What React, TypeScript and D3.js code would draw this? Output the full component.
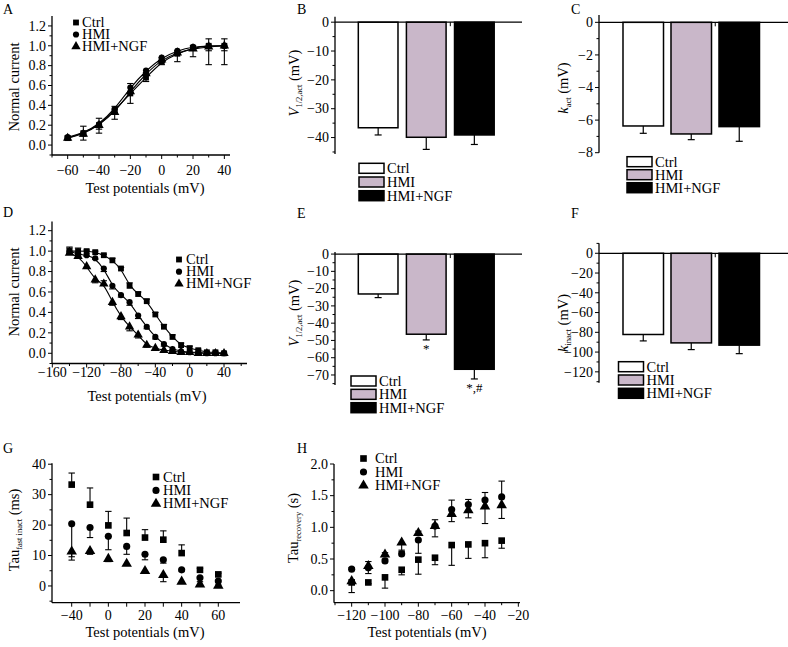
import React from 'react';
import * as d3 from 'd3';

const FONT = '"Liberation Serif", "Times New Roman", serif';
const HMI_FILL = '#c9b7c9';

const groupNames = ['Ctrl', 'HMI', 'HMI+NGF'];
const groupFills = ['#ffffff', HMI_FILL, '#000000'];

// A - activation curves
const actPotentials = [-60, -50, -40, -30, -20, -10, 0, 10, 20, 30, 40];
const actCtrl = [0.07, 0.12, 0.2, 0.35, 0.52, 0.68, 0.84, 0.92, 0.98, 1.0, 1.0];
const actCtrlErr = [0.02, 0.07, 0.07, 0.04, 0.1, 0.05, 0.04, 0.03, 0.02, 0.07, 0.07];
const actHmi = [0.08, 0.12, 0.21, 0.36, 0.58, 0.75, 0.88, 0.95, 0.99, 1.0, 1.0];
const actHmiErr = [-0.01, -0.03, -0.05, -0.03, -0.05, -0.05, -0.05, -0.03, -0.03, -0.05, -0.05];
const actNgf = [0.07, 0.11, 0.2, 0.33, 0.54, 0.72, 0.86, 0.93, 0.97, 0.99, 1.0];
const actNgfErr = [-0.02, -0.06, -0.08, -0.07, -0.12, -0.08, -0.05, -0.09, -0.08, -0.18, -0.19];

// B, C - activation parameters
const v12Act = [-36.6, -39.9, -39.1];
const v12ActErr = [2.5, 4.2, 3.3];
const kAct = [-6.36, -6.85, -6.4];
const kActErr = [0.45, 0.35, 0.9];

// D - inactivation curves
const inactPotentials = [-140, -130, -120, -110, -100, -90, -80, -70, -60, -50, -40, -30, -20, -10, 0, 10, 20, 30, 40];
const inactCtrl = [1.0, 1.0, 1.0, 0.99, 0.96, 0.91, 0.83, 0.66, 0.58, 0.51, 0.38, 0.26, 0.16, 0.08, 0.05, 0.03, 0.01, 0.01, 0.0];
const inactCtrlErr = [0.03, 0.03, 0.01, 0.01, 0.01, 0.02, 0.01, 0.03, 0.02, 0.02, 0.02, 0.02, 0.02, 0.02, 0.02, 0.01, 0.01, 0.01, 0.01];
const inactHmi = [1.0, 0.97, 0.96, 0.93, 0.83, 0.66, 0.57, 0.5, 0.37, 0.26, 0.16, 0.09, 0.04, 0.02, 0.01, 0.01, 0.0, 0.0, 0.0];
const inactHmiErr = [-0.02, -0.02, -0.01, -0.01, -0.03, -0.03, -0.02, -0.03, -0.03, -0.02, -0.02, -0.02, -0.01, -0.01, -0.01, -0.01, -0.01, -0.01, -0.01];
const inactNgf = [0.98, 0.95, 0.85, 0.72, 0.68, 0.5, 0.36, 0.26, 0.18, 0.08, 0.05, 0.03, 0.02, 0.01, 0.01, 0.0, 0.0, 0.0, 0.0];
const inactNgfErr = [0.06, 0.03, -0.02, -0.03, 0.03, -0.03, -0.03, -0.04, -0.03, -0.02, -0.02, -0.02, -0.01, -0.01, -0.01, -0.01, -0.01, -0.01, -0.01];

// E, F - inactivation parameters
const v12Inact = [-23.1, -46.4, -66.7];
const v12InactErr = [2.1, 3.3, 5.6];
const v12InactSig = ['', '*', '*,#'];
const kInact = [-82.2, -90.7, -93.0];
const kInactErr = [6.5, 6.8, 8.6];

// G - fast inactivation tau
const tauPotentials = ['-40', '-20', '0', '10', '20', '30', '40', '50', '60'];
const tauTickLabels = ['-40', '0', '20', '40', '60'];
const tauCtrl = [33.3, 26.7, 19.9, 17.4, 15.9, 15.2, 10.8, 5.3, 3.8];
const tauCtrlErr = [3.8, 5.5, 4.6, 4.9, 2.6, 2.9, 2.7, 0.5, 0.4];
const tauHmi = [20.4, 19.2, 16.3, 13.0, 10.4, 8.6, 5.3, 2.7, 1.6];
const tauHmiErr = [-10.8, -3.3, -4.4, -2.6, -1.8, -1.1, -0.4, -1.3, -1.3];
const tauNgf = [11.3, 11.5, 8.9, 7.3, 4.9, 3.6, 1.4, 0.5, 0.1];
const tauNgfErr = [-2.8, -1.1, -0.9, -0.4, -0.3, -2.2, -0.3, -0.5, -0.3];

// H - recovery tau
const recPotentials = [-120, -110, -100, -90, -80, -70, -60, -50, -40, -30];
const recCtrl = [0.13, 0.13, 0.21, 0.33, 0.49, 0.52, 0.72, 0.73, 0.75, 0.79];
const recCtrlErr = [-0.16, -0.02, -0.17, -0.08, -0.23, -0.11, -0.32, -0.22, -0.23, -0.12];
const recHmi = [0.34, 0.36, 0.47, 0.58, 0.8, 1.02, 1.28, 1.36, 1.43, 1.48];
const recHmiErr = [0.02, -0.09, 0.03, 0.04, -0.21, 0.1, 0.15, 0.08, 0.12, 0.25];
const recNgf = [0.15, 0.39, 0.57, 0.76, 0.91, 1.02, 1.21, 1.27, 1.33, 1.35];
const recNgfErr = [-0.03, 0.07, 0.03, -0.12, 0.03, -0.17, -0.12, -0.12, -0.27, -0.21];

const symbols = [d3.symbolSquare, d3.symbolCircle, d3.symbolTriangle];
const minus = (s: string) => s.replace('-', '\u2212');

type Series = { values: number[]; errors: number[] };

function Title({ x, y, main, sub, tail, italic }: any) {
  return (
    <text transform={`translate(${x},${y}) rotate(-90)`} textAnchor="middle" fontSize={14.5}>
      <tspan fontStyle={italic ? 'italic' : 'normal'}>{main}</tspan>
      <tspan fontSize={8.5} dy={3}>{sub}</tspan>
      <tspan dy={-3}>{tail}</tspan>
    </text>
  );
}

function XYPanel(props: any) {
  const { letter, letterAt, x, xs, y, xEnd, xTicks, xMinor, xLabelDy, yMajor, yMinor, yFmt,
    series, fit, legend, markerSize, yTitle, xTitleAt } = props;
  const [yBottom, yTop] = y.range();
  const x0 = props.xStart;
  const line = d3.line<number>().x((_, i) => x(xs[i])).y(v => y(v)).curve(d3.curveBasis);
  return (
    <g>
      <text x={letterAt[0]} y={letterAt[1]} fontSize={14}>{letter}</text>
      {fit && series.map((s: Series, k: number) => (
        <path key={'f' + k} d={line(s.values) || ''} fill="none" stroke="#000" strokeWidth={1.1} />
      ))}
      <line x1={x0} x2={x0} y1={yTop} y2={yBottom} stroke="#000" strokeWidth={1.3} />
      <line x1={x0} x2={xEnd} y1={yBottom} y2={yBottom} stroke="#000" strokeWidth={1.3} />
      {yMajor.map((t: number) => (
        <g key={'ym' + t}>
          <line x1={x0 - 4} x2={x0} y1={y(t)} y2={y(t)} stroke="#000" strokeWidth={1} />
          <text x={x0 - 6} y={y(t)} dy="0.34em" textAnchor="end" fontSize={14}>{minus(yFmt(t))}</text>
        </g>
      ))}
      {yMinor.map((t: number) => (
        <line key={'yn' + t} x1={x0 - 2.5} x2={x0} y1={y(t)} y2={y(t)} stroke="#000" strokeWidth={1} />
      ))}
      {xTicks.map((t: any, i: number) => (
        <g key={'xm' + i}>
          <line x1={x(t.v)} x2={x(t.v)} y1={yBottom} y2={yBottom + 4} stroke="#000" strokeWidth={1} />
          <text x={x(t.v)} y={yBottom + xLabelDy} textAnchor="middle" fontSize={14}>{minus(t.label)}</text>
        </g>
      ))}
      {xMinor.map((t: any, i: number) => (
        <line key={'xn' + i} x1={x(t)} x2={x(t)} y1={yBottom} y2={yBottom + 2.5} stroke="#000" strokeWidth={1} />
      ))}
      {series.map((s: Series, k: number) => (
        <g key={'e' + k} stroke="#000" strokeWidth={1.1}>
          {s.values.map((v, i) => {
            const cx = x(xs[i]);
            const ye = y(v + s.errors[i]);
            return (
              <g key={i}>
                <line x1={cx} x2={cx} y1={y(v)} y2={ye} />
                <line x1={cx - 3.2} x2={cx + 3.2} y1={ye} y2={ye} />
              </g>
            );
          })}
        </g>
      ))}
      {series.map((s: Series, k: number) => (
        <g key={'m' + k}>
          {s.values.map((v, i) => (
            <path key={i} transform={`translate(${x(xs[i])},${y(v)})`}
              d={d3.symbol(symbols[k], markerSize[k])() || ''} fill="#000" />
          ))}
        </g>
      ))}
      {groupNames.map((g, k) => (
        <g key={'l' + k}>
          <path transform={`translate(${legend.x},${legend.y + k * legend.dy})`}
            d={d3.symbol(symbols[k], markerSize[k])() || ''} fill="#000" />
          <text x={legend.x + legend.gap} y={legend.y + k * legend.dy + 4.5} fontSize={14.5}>{g}</text>
        </g>
      ))}
      {yTitle}
      <text x={xTitleAt[0]} y={xTitleAt[1]} textAnchor="middle" fontSize={14.5}>Test potentials (mV)</text>
    </g>
  );
}

function BarPanel(props: any) {
  const { letter, letterAt, axisX, lineEnd, y, band, values, errors, major, minor, legend, title, sig } = props;
  const [yBottom, yTop] = y.range();
  const xb = d3.scaleBand<string>().domain(groupNames).range(band).paddingInner(props.pad).paddingOuter(0.1);
  const bw = xb.bandwidth();
  const y0 = y(0);
  const gapX = (xb('HMI') as number) + bw + (xb.step() - bw) / 2;
  return (
    <g>
      <text x={letterAt[0]} y={letterAt[1]} fontSize={14}>{letter}</text>
      {groupNames.map((g, i) => {
        const bx = xb(g) as number;
        const cx = bx + bw / 2;
        const ye = y(values[i] - errors[i]);
        return (
          <g key={g}>
            <line x1={cx} x2={cx} y1={y(values[i])} y2={ye} stroke="#000" strokeWidth={1.2} />
            <line x1={cx - 3.5} x2={cx + 3.5} y1={ye} y2={ye} stroke="#000" strokeWidth={1.2} />
            <rect x={bx} y={y0} width={bw} height={y(values[i]) - y0} fill={groupFills[i]} stroke="#000" strokeWidth={1.5} />
            {sig && sig[i] && (
              <text x={cx} y={ye + 13} textAnchor="middle" fontSize={13}>{sig[i]}</text>
            )}
          </g>
        );
      })}
      <line x1={axisX} x2={axisX} y1={yTop} y2={yBottom} stroke="#000" strokeWidth={1.3} />
      <line x1={axisX} x2={lineEnd} y1={y0} y2={y0} stroke="#000" strokeWidth={1.3} />
      <line x1={gapX} x2={gapX} y1={y0} y2={y0 + 4} stroke="#000" strokeWidth={1} />
      {major.map((t: number) => (
        <g key={'m' + t}>
          <line x1={axisX - 4} x2={axisX} y1={y(t)} y2={y(t)} stroke="#000" strokeWidth={1} />
          <text x={axisX - 6} y={y(t)} dy="0.34em" textAnchor="end" fontSize={14}>{minus(String(t))}</text>
        </g>
      ))}
      {minor.map((t: number) => (
        <line key={'n' + t} x1={axisX - 2.5} x2={axisX} y1={y(t)} y2={y(t)} stroke="#000" strokeWidth={1} />
      ))}
      {groupNames.map((g, i) => (
        <g key={'l' + g}>
          <rect x={legend.x} y={legend.y + i * legend.dy} width={25} height={10} fill={groupFills[i]} stroke="#000" strokeWidth={1.5} />
          <text x={legend.x + 28} y={legend.y + i * legend.dy + 10} fontSize={14.5}>{g}</text>
        </g>
      ))}
      {title}
    </g>
  );
}

export default function App() {
  const sizesSmall = [34, 30, 38];
  const sizesBig = [44, 40, 48];

  // A
  const xA = d3.scaleLinear().domain([-70, 43.6]).range([52, 230]);
  const yA = d3.scaleLinear().domain([-0.1, 1.3]).range([155, 16]);
  // D
  const xD = d3.scaleLinear().domain([-160, 67]).range([52.3, 247.2]);
  const yD = d3.scaleLinear().domain([-0.1, 1.29]).range([363.5, 221.5]);
  // G
  const xG = d3.scalePoint<string>().domain(tauPotentials).range([71.7, 218.3]);
  const yG = d3.scaleLinear().domain([-5.5, 40.3]).range([602.7, 463.3]);
  // H
  const xH = d3.scaleLinear().domain([-130.6, -19]).range([334, 520]);
  const yH = d3.scaleLinear().domain([-0.19, 2.0]).range([602.7, 464]);

  const yB = d3.scaleLinear().domain([-45.7, 1.9]).range([154, 16.7]);
  const yC = d3.scaleLinear().domain([-8, 0.45]).range([152.7, 15]);
  const yE = d3.scaleLinear().domain([-75.8, 1.2]).range([385, 252]);
  const yF = d3.scaleLinear().domain([-131, 10.1]).range([382.7, 243.3]);

  const f1 = d3.format('.1f');
  const fd = d3.format('d');

  return (
    <svg width={788} height={647} style={{ position: 'absolute', left: 0, top: 0, background: '#fff' }}
      fontFamily={FONT}>
      <XYPanel letter="A" letterAt={[3, 13.5]} x={xA} xs={actPotentials} y={yA} xStart={52} xEnd={230}
        xTicks={d3.range(-60, 41, 20).map(v => ({ v, label: fd(v) }))}
        xMinor={d3.range(-70, 44, 10).filter(v => v % 20 !== 0)} xLabelDy={20}
        yMajor={d3.range(0, 1.21, 0.2).map(v => +v.toFixed(1))}
        yMinor={[-0.1, 0.1, 0.3, 0.5, 0.7, 0.9, 1.1]} yFmt={f1}
        series={[{ values: actCtrl, errors: actCtrlErr }, { values: actHmi, errors: actHmiErr }, { values: actNgf, errors: actNgfErr }]}
        fit markerSize={sizesSmall} legend={{ x: 76, y: 22.5, dy: 12, gap: 6 }}
        yTitle={<Title x={19} y={87} main="Normal current" sub="" tail="" />}
        xTitleAt={[145, 193]} />

      <XYPanel letter="D" letterAt={[3, 217]} x={xD} xs={inactPotentials} y={yD} xStart={52} xEnd={247}
        xTicks={d3.range(-160, 41, 40).map(v => ({ v, label: fd(v) }))}
        xMinor={d3.range(-140, 61, 40)} xLabelDy={13.5}
        yMajor={d3.range(0, 1.21, 0.2).map(v => +v.toFixed(1))}
        yMinor={[-0.1, 0.1, 0.3, 0.5, 0.7, 0.9, 1.1]} yFmt={f1}
        series={[{ values: inactCtrl, errors: inactCtrlErr }, { values: inactHmi, errors: inactHmiErr }, { values: inactNgf, errors: inactNgfErr }]}
        fit markerSize={sizesSmall} legend={{ x: 179, y: 259.5, dy: 12.2, gap: 7 }}
        yTitle={<Title x={19} y={292} main="Normal current" sub="" tail="" />}
        xTitleAt={[147, 401]} />

      <XYPanel letter="G" letterAt={[3, 453]} x={xG} xs={tauPotentials} y={yG} xStart={52} xEnd={240}
        xTicks={tauPotentials.map(v => ({ v, label: tauTickLabels.includes(v) ? v : '' }))}
        xMinor={[]} xLabelDy={17.3}
        yMajor={d3.range(0, 41, 10)} yMinor={d3.range(-5, 40, 10)} yFmt={fd}
        series={[{ values: tauCtrl, errors: tauCtrlErr }, { values: tauHmi, errors: tauHmiErr }, { values: tauNgf, errors: tauNgfErr }]}
        markerSize={sizesBig} legend={{ x: 156, y: 477, dy: 13.4, gap: 7 }}
        yTitle={<Title x={18.5} y={530} main="Tau" sub="fast inact" tail=" (ms)" />}
        xTitleAt={[145, 637]} />

      <XYPanel letter="H" letterAt={[297, 453]} x={xH} xs={recPotentials} y={yH} xStart={334} xEnd={520}
        xTicks={d3.range(-120, -19, 20).map(v => ({ v, label: fd(v) }))}
        xMinor={d3.range(-130, -19, 20)} xLabelDy={17.3}
        yMajor={[0, 0.5, 1, 1.5, 2]} yMinor={[0.25, 0.75, 1.25, 1.75]} yFmt={f1}
        series={[{ values: recCtrl, errors: recCtrlErr }, { values: recHmi, errors: recHmiErr }, { values: recNgf, errors: recNgfErr }]}
        markerSize={sizesBig} legend={{ x: 363.5, y: 458.5, dy: 13.5, gap: 11.5 }}
        yTitle={<Title x={298} y={528} main="Tau" sub="recovery" tail=" (s)" />}
        xTitleAt={[427, 637]} />

      <BarPanel letter="B" letterAt={[297, 13.5]} axisX={335} lineEnd={522} y={yB} band={[353.5, 499]} pad={0.175}
        values={v12Act} errors={v12ActErr} major={d3.range(-40, 1, 10)} minor={d3.range(-45, 1, 10)}
        legend={{ x: 359, y: 163.3, dy: 13.7 }}
        title={<Title x={299} y={83} main="V" sub="1/2,act" tail=" (mV)" italic />} />

      <BarPanel letter="C" letterAt={[571, 13.5]} axisX={599} lineEnd={788} y={yC} band={[618.2, 764.3]} pad={0.156}
        values={kAct} errors={kActErr} major={d3.range(-8, 1, 2)} minor={d3.range(-7, 0, 2)}
        legend={{ x: 627, y: 156.7, dy: 13 }}
        title={<Title x={568} y={88} main="k" sub="act" tail=" (mV)" italic />} />

      <BarPanel letter="E" letterAt={[297, 218.3]} axisX={335} lineEnd={522} y={yE} band={[353.5, 499]} pad={0.175}
        values={v12Inact} errors={v12InactErr} sig={v12InactSig}
        major={d3.range(-70, 1, 10)} minor={d3.range(-75, 1, 10)}
        legend={{ x: 351, y: 376, dy: 13.35 }}
        title={<Title x={299} y={313} main="V" sub="1/2,act" tail=" (mV)" italic />} />

      <BarPanel letter="F" letterAt={[571, 218]} axisX={599} lineEnd={788} y={yF} band={[618.2, 764.3]} pad={0.156}
        values={kInact} errors={kInactErr} major={d3.range(-120, 1, 20)} minor={d3.range(-130, 11, 20)}
        legend={{ x: 618.5, y: 361.7, dy: 13.3 }}
        title={<Title x={568} y={323} main="k" sub="inact" tail=" (mV)" italic />} />
    </svg>
  );
}
